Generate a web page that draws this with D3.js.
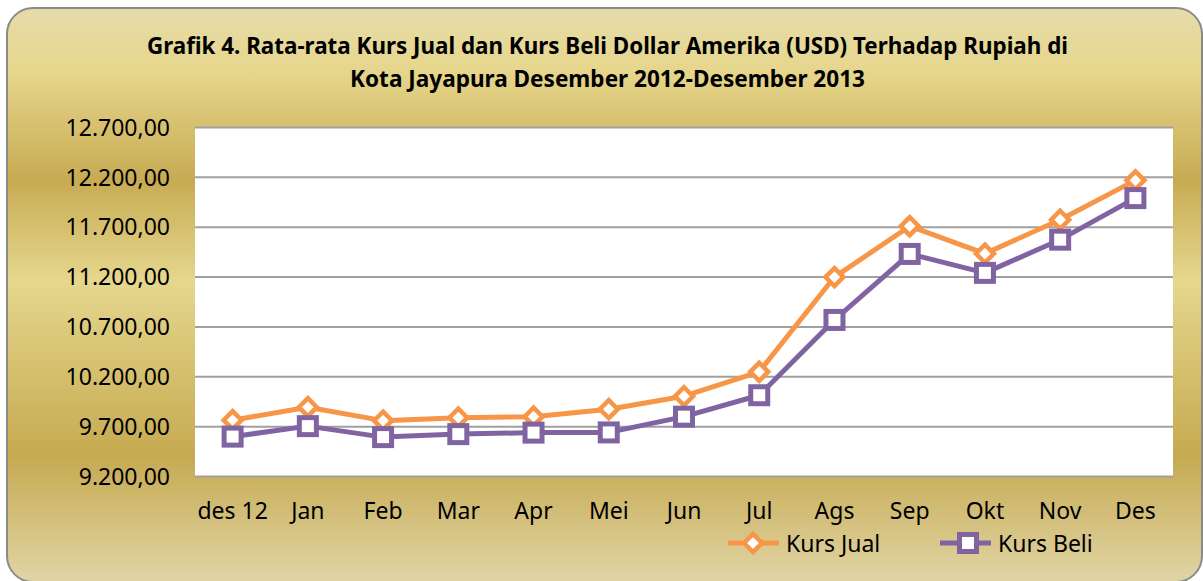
<!DOCTYPE html>
<html>
<head>
<meta charset="utf-8">
<script src="https://cdn.jsdelivr.net/npm/d3@7"></script>
<style>
    body { margin: 0; background: #ffffff; }
    svg { display: block; }
</style>
</head>
<body>
<div id="svganchor"></div>
<script>
const width = 1203;
const height = 581;
const margin = ({top: 127, right: 30, bottom: 105, left: 195});

// data
const months = ["des 12", "Jan", "Feb", "Mar", "Apr", "Mei", "Jun", "Jul", "Ags", "Sep", "Okt", "Nov", "Des"];
const kursJual = [9760, 9890, 9755, 9785, 9795, 9870, 10000, 10245, 11195, 11705, 11430, 11770, 12165];
const kursBeli = [9595, 9700, 9590, 9620, 9635, 9637, 9795, 10010, 10765, 11427, 11237, 11570, 11987];
const yTicks = [9200, 9700, 10200, 10700, 11200, 11700, 12200, 12700];
const seriesNames = ["Kurs Jual", "Kurs Beli"];
const titleLines = ["Grafik 4. Rata-rata Kurs Jual dan Kurs Beli Dollar Amerika (USD) Terhadap Rupiah di",
    "Kota Jayapura Desember 2012-Desember 2013"];

const orange = "#f79646";
const purple = "#8064a2";
const font = "'Noto Sans', 'Open Sans', sans-serif";

let svg = d3.select("#svganchor")
    .append("svg")
    .attr("width", width)
    .attr("height", height);

// gold gradient of the chart area
let grad = svg.append("defs").append("linearGradient")
    .attr("id", "gold")
    .attr("x1", 0).attr("y1", 0)
    .attr("x2", 0).attr("y2", 1);

[[0, "#e6dcaa"], [0.11, "#e6d68c"], [0.30, "#c7ab53"], [0.475, "#e5d78d"], [0.78, "#c6aa51"], [1, "#e1d5a6"]]
    .forEach(function (s) {
        grad.append("stop").attr("offset", s[0]).attr("stop-color", s[1]);
    });

svg.append("rect")
    .attr("x", 7)
    .attr("y", 8)
    .attr("width", 1195)
    .attr("height", 574)
    .attr("rx", 26)
    .attr("fill", "url(#gold)")
    .attr("stroke", "#8a8a8a")
    .attr("stroke-width", 2);

// title
svg.selectAll(".title")
    .data(titleLines)
    .enter()
    .append("text")
    .attr("class", "title")
    .attr("x", function (d, i) { return i === 0 ? 147 : 350; })
    .attr("y", function (d, i) { return i === 0 ? 54 : 87; })
    .attr("textLength", function (d, i) { return i === 0 ? 921 : 515; })
    .attr("lengthAdjust", "spacingAndGlyphs")
    .style("font-family", font)
    .style("font-weight", "bold")
    .style("font-size", "24px")
    .attr("fill", "#000")
    .text(function (d) { return d; });

let xScale = d3.scaleBand()
    .domain(months)
    .range([margin.left, width - margin.right]);

let yScale = d3.scaleLinear()
    .domain([9200, 12700])
    .range([height - margin.bottom, margin.top]);

const xPos = function (i) { return xScale(months[i]) + xScale.bandwidth() / 2; };

// plot area
svg.append("rect")
    .attr("x", margin.left)
    .attr("y", margin.top)
    .attr("width", width - margin.right - margin.left)
    .attr("height", height - margin.bottom - margin.top)
    .attr("fill", "#ffffff");

let yAxis = d3.axisLeft(yScale)
    .tickValues(yTicks)
    .tickSize(-(width - margin.right - margin.left))
    .tickPadding(25)
    .tickFormat(function (d) {
        return d3.format(",.2f")(d).replace(/,/g, "#").replace(".", ",").replace(/#/g, ".");
    });

let gy = svg.append("g")
    .attr("class", "y axis")
    .attr("transform", "translate(" + margin.left + ",0)")
    .call(yAxis);

gy.select(".domain").remove();
gy.selectAll(".tick line")
    .attr("stroke", "#a0a0a0")
    .attr("stroke-width", 2);
gy.selectAll(".tick text")
    .style("font-family", font)
    .style("font-size", "23px")
    .attr("fill", "#000")
    .attr("dy", "0.36em");

let xAxis = d3.axisBottom(xScale)
    .tickSize(0)
    .tickPadding(27);

let gx = svg.append("g")
    .attr("class", "x axis")
    .attr("transform", "translate(0," + (height - margin.bottom) + ")")
    .call(xAxis);

gx.select(".domain").remove();
gx.selectAll(".tick text")
    .style("font-family", font)
    .style("font-size", "23px")
    .attr("fill", "#000");

let line = d3.line()
    .x(function (d, i) { return xPos(i); })
    .y(function (d) { return yScale(d); });

const diamond = function (cx, cy) {
    let r = 9;
    return "M" + cx + "," + (cy - r) + "L" + (cx + r) + "," + cy + "L" + cx + "," + (cy + r) + "L" + (cx - r) + "," + cy + "Z";
};

function drawSeries(values, color, shape) {
    svg.append("path")
        .datum(values)
        .attr("fill", "none")
        .attr("stroke", color)
        .attr("stroke-width", 5)
        .attr("stroke-linejoin", "round")
        .attr("d", line);

    if (shape === "diamond") {
        svg.selectAll(".m-diamond")
            .data(values)
            .enter()
            .append("path")
            .attr("class", "m-diamond")
            .attr("d", function (d, i) { return diamond(xPos(i), yScale(d)); })
            .attr("fill", "#fff")
            .attr("stroke", color)
            .attr("stroke-width", 4.5);
    } else {
        svg.selectAll(".m-square")
            .data(values)
            .enter()
            .append("rect")
            .attr("class", "m-square")
            .attr("x", function (d, i) { return xPos(i) - 8.5; })
            .attr("y", function (d) { return yScale(d) - 8.5; })
            .attr("width", 17)
            .attr("height", 17)
            .attr("fill", "#fff")
            .attr("stroke", color)
            .attr("stroke-width", 5);
    }
}

drawSeries(kursJual, orange, "diamond");
drawSeries(kursBeli, purple, "square");

// legend
let legend = svg.append("g").attr("class", "legend");
const legendX = [728, 940];
const legendY = 543;

seriesNames.forEach(function (name, i) {
    let color = i === 0 ? orange : purple;
    let x0 = legendX[i];
    legend.append("line")
        .attr("x1", x0).attr("x2", x0 + 51)
        .attr("y1", legendY).attr("y2", legendY)
        .attr("stroke", color)
        .attr("stroke-width", 5);
    if (i === 0) {
        legend.append("path")
            .attr("d", diamond(x0 + 25, legendY))
            .attr("fill", "#fff")
            .attr("stroke", color)
            .attr("stroke-width", 4.5);
    } else {
        legend.append("rect")
            .attr("x", x0 + 28 - 8.5).attr("y", legendY - 8.5)
            .attr("width", 17).attr("height", 17)
            .attr("fill", "#fff")
            .attr("stroke", color)
            .attr("stroke-width", 5);
    }
    legend.append("text")
        .attr("x", x0 + 58)
        .attr("y", legendY + 9)
        .style("font-family", font)
        .style("font-size", "23px")
        .attr("fill", "#000")
        .text(name);
});
</script>
</body>
</html>
